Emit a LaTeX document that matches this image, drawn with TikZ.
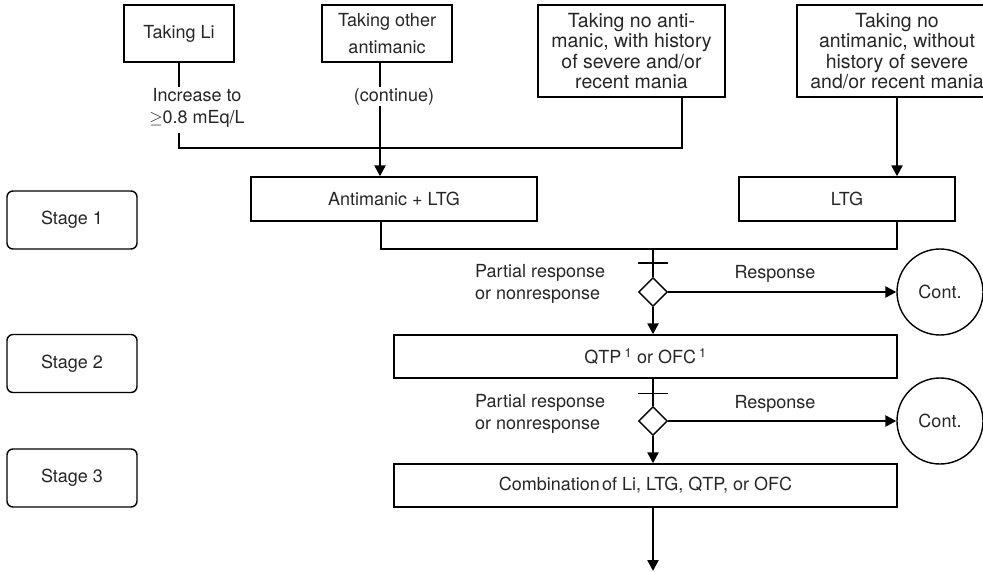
\documentclass[tikz,border=0pt]{standalone}
\usepackage{fontspec}
\setmainfont{TeX Gyre Heros}
\usetikzlibrary{shapes.geometric,arrows.meta,calc}

\tikzset{
  txt/.style={font=\fontsize{18}{22}\selectfont, inner sep=0pt, align=center, text=black!85},
  box/.style={txt, draw=black, line width=1.4pt, rectangle},
  groupbox/.style={box, font=\fontsize{19.5}{20.5}\selectfont},
  stagebox/.style={box, rounded corners=6pt, minimum width=130pt, minimum height=58pt},
  thin/.style={line width=1.4pt},
  thick/.style={line width=2.4pt, -{Triangle[length=11pt,width=11pt]}},
  decision/.style={draw, line width=1.4pt, diamond, minimum width=29pt, minimum height=29pt, inner sep=0pt},
  contcircle/.style={txt, draw=black, line width=1.4pt, circle, minimum size=86pt}
}

\begin{document}
\begin{tikzpicture}[x=1pt,y=-1pt]
  \useasboundingbox (0,0) rectangle (983,572);
  \clip (0,0) rectangle (983,572);

  % entry groups
  \node[box, minimum width=110pt, minimum height=57pt] (li) at (179,33.5) {Taking Li};
  \node[box, minimum width=130pt, minimum height=57pt, font=\fontsize{18}{27}\selectfont] (oth) at (387,33.5) {Taking other\\antimanic};
  \node[groupbox, minimum width=187pt, minimum height=92pt] (nohist) at (631.5,51) {Taking no anti-\\manic, with history\\of severe and/or\\recent mania};
  \node[groupbox, minimum width=200pt, minimum height=92pt] (nowith) at (897,51) {Taking no\\antimanic, without\\history of severe\\and/or recent mania};

  % notes under the first two groups
  \node[txt] (inc) at (197,108) {Increase to\\$\geq$0.8 mEq/L};
  \node[txt] (cont) at (394,97) {(continue)};

  % stage labels
  \node[stagebox] (s1) at (72,220) {Stage 1};
  \node[stagebox] (s2) at (72,363.5) {Stage 2};
  \node[stagebox] (s3) at (72,478) {Stage 3};

  % treatment boxes
  \node[box, minimum width=286pt, minimum height=44pt] (am) at (394,199) {Antimanic + LTG};
  \node[box, minimum width=216pt, minimum height=44pt] (ltg) at (847,199) {LTG};
  \node[box, minimum width=503pt, minimum height=43pt] (qtp) at (645.5,356.5) {QTP\,\textsuperscript{1} or OFC\,\textsuperscript{1}};
  \node[box, minimum width=503pt, minimum height=43pt] (comb) at (645.5,485.5) {Combination\hspace{0.12em}of Li, LTG, QTP, or OFC};

  % decisions and continuation
  \node[decision] (d1) at (653,292) {};
  \node[decision] (d2) at (653,421) {};
  \node[contcircle] (c1) at (940,292) {Cont.};
  \node[contcircle] (c2) at (940,421) {Cont.};

  \node[txt, align=left, anchor=west] (pr1) at (475,284) {Partial response\\or nonresponse};
  \node[txt, align=left, anchor=west] (pr2) at (475,414) {Partial response\\or nonresponse};
  \node[txt] (r1) at (775,274) {Response};
  \node[txt] (r2) at (775,404) {Response};

  % junction points
  \coordinate (liA) at (179,87);
  \coordinate (liB) at (179,133);
  \coordinate (jl) at (179,148);
  \coordinate (jr) at (682,148);
  \coordinate (nhS) at (682,97);
  \coordinate (othS) at (380,62);
  \coordinate (othA) at (380,87);
  \coordinate (contB) at (380,106);
  \coordinate (jm) at (653,249);
  \coordinate (amS) at (381,221);
  \coordinate (fin) at (653,571);

  % Stage 1 entry
  \draw[thin] (li.south) -- (liA);
  \draw[thin] (liB) -- (jl) -- (jr) -- (nhS);
  \draw[thin] (othS) -- (othA);
  \draw[thick] (contB) -- (contB |- am.north);
  \draw[thick] (nowith.south) -- (nowith.south |- ltg.north);

  % merge into first decision
  \draw[thin] (amS) |- (jm) -| (ltg.south -| nowith.south);
  \draw[thin] (jm) -- (d1.north);
  \draw[thin] ($(jm)+(-15,14)$) -- ++(30,0);
  \draw[thick] (d1.east) -- (c1.west);
  \draw[thick] (d1.south) -- (d1.south |- qtp.north);

  % Stage 2 to Stage 3
  \draw[thin] (qtp.south -| d2) -- (d2.north);
  \draw[thin] ($(qtp.south -| d2)+(-15,15)$) -- ++(30,0);
  \draw[thick] (d2.east) -- (c2.west);
  \draw[thick] (d2.south) -- (d2.south |- comb.north);
  \draw[thick] (comb.south -| d2) -- (fin);
\end{tikzpicture}
\end{document}
